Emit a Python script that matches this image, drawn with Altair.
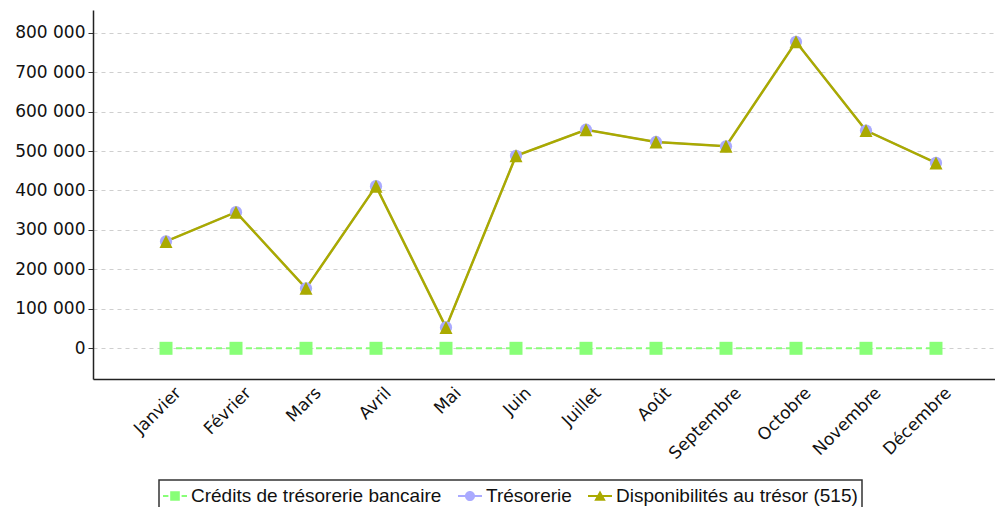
import altair as alt
import pandas as pd

months = ["Janvier", "Février", "Mars", "Avril", "Mai", "Juin", "Juillet",
          "Août", "Septembre", "Octobre", "Novembre", "Décembre"]
series_names = ["Crédits de trésorerie bancaire", "Trésorerie",
                "Disponibilités au trésor (515)"]
credits = [0, 0, 0, 0, 0, 0, 0, 0, 0, 0, 0, 0]
tresorerie = [271000, 345000, 152000, 411000, 53000, 488000, 554000,
              523000, 512000, 777000, 552000, 470000]
disponibilites = [271000, 345000, 152000, 411000, 53000, 488000, 554000,
                  523000, 512000, 777000, 552000, 470000]
y_ticks = [0, 100000, 200000, 300000, 400000, 500000, 600000, 700000, 800000]

colors = ["#88ff77", "#aaaaff", "#aaaa00"]

rows = []
for name, vals in zip(series_names, [credits, tresorerie, disponibilites]):
    for m, v in zip(months, vals):
        rows.append({"month": m, "series": name, "value": v})
df = pd.DataFrame(rows)

x_enc = alt.X("month:N", sort=months, title=None,
              scale=alt.Scale(type="point", padding=0.943, align=0.553),
              axis=alt.Axis(labelAngle=-45, labelAlign="right", labelBaseline="middle",
                            ticks=False, grid=False, labelPadding=11, labelOffset=12,
                            labelFont="DejaVu Sans", labelFontSize=17,
                            labelColor="#111", domainColor="#222", domainWidth=1.5))
y_enc = alt.Y("value:Q", title=None,
              scale=alt.Scale(domain=[-77800, 857500], nice=False, zero=False),
              axis=alt.Axis(values=y_ticks,
                            labelExpr="replace(format(datum.value, ','), ',', ' ')",
                            labelFont="DejaVu Sans", labelFontSize=17,
                            labelColor="#111", tickSize=5, tickColor="#333",
                            labelPadding=3, domainColor="#222", domainWidth=1.5,
                            grid=True, gridColor="#cfcfcf", gridDash=[4, 4],
                            gridWidth=1))

base = alt.Chart(df)

def sel(name):
    return base.transform_filter(alt.datum.series == name)

line_credits = sel(series_names[0]).mark_line(
    color=colors[0], strokeWidth=2, strokeDash=[6, 4]).encode(x=x_enc, y=y_enc)
line_tres = sel(series_names[1]).mark_line(
    color=colors[1], strokeWidth=2).encode(x=x_enc, y=y_enc)
line_disp = sel(series_names[2]).mark_line(
    color=colors[2], strokeWidth=2.5).encode(x=x_enc, y=y_enc)

pt_credits = sel(series_names[0]).mark_point(
    shape="M-1,-1H1V1H-1Z", filled=True, opacity=1, color=colors[0], size=169
).encode(x=x_enc, y=y_enc)
pt_tres = sel(series_names[1]).mark_point(
    shape="circle", filled=True, opacity=1, color=colors[1], size=150
).encode(x=x_enc, y=y_enc)
pt_disp = sel(series_names[2]).mark_point(
    shape="M0,-1L1,1H-1Z", filled=True, opacity=1, color=colors[2], size=169
).encode(x=x_enc, y=y_enc)

sym_credits = ("M-1,-0.08H-0.55V0.08H-1Z M-0.4,-0.4H0.4V0.4H-0.4Z "
               "M0.55,-0.08H1V0.08H0.55Z")
sym_tres = ("M-1,-0.08H-0.3V0.08H-1Z M0.3,-0.08H1V0.08H0.3Z "
            "M-0.42,0A0.42,0.42 0 1,1 0.42,0A0.42,0.42 0 1,1 -0.42,0Z")
sym_disp = ("M-1,-0.08H-0.15V0.08H-1Z M0.15,-0.08H1V0.08H0.15Z "
            "M0,-0.45L0.48,0.4H-0.48Z")

legend_layer = base.transform_filter("false").mark_point(filled=True, opacity=1).encode(
    color=alt.Color("series:N",
                    scale=alt.Scale(domain=series_names, range=colors),
                    legend=alt.Legend(title=None, orient="none", direction="horizontal",
                                      legendX=66, legendY=470,
                                      symbolSize=576, symbolStrokeWidth=0,
                                      symbolOpacity=1,
                                      labelFont="Liberation Sans", labelFontSize=19,
                                      labelColor="#111", labelOffset=4,
                                      columnPadding=16, padding=4,
                                      strokeColor="#333",
                                      labelLimit=400)),
    shape=alt.Shape("series:N",
                    scale=alt.Scale(domain=series_names,
                                    range=[sym_credits, sym_tres, sym_disp]),
                    legend=alt.Legend(title=None, orient="none", direction="horizontal",
                                      legendX=66, legendY=470)),
)

chart = alt.layer(
    line_credits, line_tres, line_disp, pt_credits, pt_tres, pt_disp, legend_layer
).properties(
    width=902, height=369,
    padding={"left": 85, "top": 2, "right": 0, "bottom": 128},
    autosize=alt.AutoSizeParams(type="none"),
).configure(background="white").configure_view(stroke=None).configure_legend(strokeWidth=1.5)

chart.save("out.html", embed_options={"renderer": "svg", "actions": False})
